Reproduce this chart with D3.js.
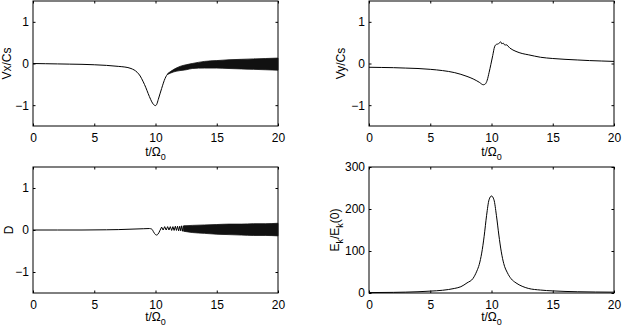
<!DOCTYPE html>
<html>
<head>
<meta charset="utf-8">
<script src="https://cdn.jsdelivr.net/npm/d3@7"></script>
<style>
  html, body { margin: 0; padding: 0; background: #fff; }
  svg { display: block; }
  text, tspan { font-family: "Liberation Sans", Arial, Helvetica, sans-serif; fill: #000; }
</style>
</head>
<body>
<svg id="chart" width="622" height="331"></svg>
<script>
// ---------- Data ----------
const xTicks = [0, 5, 10, 15, 20];
const vTicks = [-1, 0, 1];
const eTicks = [0, 100, 200, 300];

// Vx/Cs main curve
const tVx = [0, 1, 2, 3, 4, 5, 6, 7, 7.5, 8, 8.5, 8.75, 9, 9.2, 9.4, 9.6, 9.8, 10, 10.1, 10.23, 10.5, 10.78, 10.9, 11];
const vx  = [0, -0.005, -0.01, -0.015, -0.02, -0.03, -0.045, -0.07, -0.085, -0.12, -0.21, -0.3, -0.44, -0.57, -0.72, -0.86, -0.97, -1.01, -0.98, -0.86, -0.6, -0.36, -0.29, -0.25];
// Vx/Cs fast-oscillation envelope
const tVxBand = [11, 11.5, 12, 12.5, 13, 14, 15, 16, 17, 18, 19, 20];
const vxHi    = [-0.24, -0.14, -0.07, -0.03, 0.0, 0.05, 0.07, 0.09, 0.10, 0.11, 0.12, 0.13];
const vxLo    = [-0.26, -0.20, -0.17, -0.15, -0.12, -0.11, -0.11, -0.12, -0.13, -0.14, -0.15, -0.16];

// Vy/Cs curve
const tVy = [0, 1, 2, 3, 4, 5, 6, 7, 7.5, 8, 8.5, 9, 9.33, 9.5, 9.65, 9.8, 9.95, 10.1, 10.25, 10.4, 10.56, 10.65, 10.75, 10.85, 10.95, 11.1, 11.2, 11.5, 12, 12.5, 13, 14, 15, 16, 17, 18, 19, 20];
const vy  = [-0.09, -0.095, -0.1, -0.11, -0.12, -0.14, -0.17, -0.22, -0.26, -0.31, -0.37, -0.45, -0.51, -0.49, -0.4, -0.22, -0.02, 0.19, 0.4, 0.46, 0.47, 0.5, 0.52, 0.47, 0.49, 0.44, 0.45, 0.37, 0.29, 0.24, 0.21, 0.15, 0.12, 0.1, 0.085, 0.07, 0.06, 0.05];

// D main curve
const tD = [0, 2, 4, 6, 7, 8, 9, 9.5, 9.7, 9.85, 10.0, 10.1, 10.2, 10.35, 10.5];
const dv = [0, 0, 0, 0.005, 0.01, 0.02, 0.03, 0.035, 0.02, -0.05, -0.11, -0.12, -0.1, -0.02, 0.07];
// D resolved wiggles
const tDz = [10.5, 10.62, 10.75, 10.87, 10.99, 11.1, 11.21, 11.32, 11.42, 11.52, 11.62, 11.71, 11.8, 11.89, 11.98, 12.06, 12.14, 12.22, 12.3];
const dz  = [0.07, 0.0, 0.08, 0.0, 0.08, 0.0, 0.08, -0.01, 0.08, -0.01, 0.09, -0.01, 0.09, -0.02, 0.09, -0.02, 0.10, -0.03, 0.10];
// D fast-oscillation envelope
const tDBand = [12.3, 13, 14, 15, 16, 17, 18, 19, 20];
const dHi    = [0.10, 0.11, 0.12, 0.13, 0.14, 0.14, 0.15, 0.15, 0.16];
const dLo    = [-0.03, -0.06, -0.08, -0.10, -0.11, -0.12, -0.13, -0.13, -0.14];

// Ek/Ek(0) curve
const tE = [0, 2, 4, 5, 6, 7, 7.5, 8, 8.5, 8.8, 9, 9.2, 9.4, 9.6, 9.8, 10, 10.2, 10.4, 10.6, 10.8, 11, 11.3, 11.6, 12, 12.5, 13, 14, 15, 17, 20];
const ek = [1, 1.5, 3, 4.5, 6.5, 11, 15, 24, 35, 52, 68, 95, 135, 185, 222, 231, 222, 185, 138, 98, 70, 48, 34, 24, 16, 11, 7, 5, 3, 2];

// ---------- Drawing ----------
const svg = d3.select("#chart");
const FONT = 12;

const panels = [
  { x0: 33,  x1: 278, y0: 1,   y1: 126, ydom: [-1.5, 1.5], yt: vTicks, label: [{t: "Vx/Cs"}], lx: 10.5, xlab: 29.5 },
  { x0: 369, x1: 614, y0: 1,   y1: 126, ydom: [-1.5, 1.5], yt: vTicks, label: [{t: "Vy/Cs"}], lx: 345,  xlab: 29.5 },
  { x0: 33,  x1: 278, y0: 167, y1: 293, ydom: [-1.5, 1.5], yt: vTicks, label: [{t: "D"}],     lx: 12.5, xlab: 28 },
  { x0: 369, x1: 614, y0: 167, y1: 293, ydom: [0, 300],    yt: eTicks,
    label: [{t: "E"}, {t: "k", sub: true}, {t: "/E"}, {t: "k", sub: true}, {t: "(0)"}], lx: 339, xlab: 28 }
];

function setup(p) {
  const x = d3.scaleLinear().domain([0, 20]).range([p.x0, p.x1]);
  const y = d3.scaleLinear().domain(p.ydom).range([p.y1, p.y0]);
  const g = svg.append("g");
  const tl = 2.5;

  const style = sel => {
    sel.select(".domain").remove();
    sel.selectAll("line").attr("stroke", "#000").attr("stroke-width", 1);
    sel.selectAll("text").attr("font-size", FONT).attr("font-family", null).attr("fill", "#000");
  };

  g.append("g").attr("transform", `translate(0,${p.y1})`)
    .call(d3.axisBottom(x).tickValues(xTicks).tickSize(-tl).tickPadding(7).tickFormat(d3.format("d")))
    .call(style);
  g.append("g").attr("transform", `translate(0,${p.y0})`)
    .call(d3.axisTop(x).tickValues(xTicks).tickSize(-tl).tickFormat(""))
    .call(style);
  g.append("g").attr("transform", `translate(${p.x0},0)`)
    .call(d3.axisLeft(y).tickValues(p.yt).tickSize(-tl).tickPadding(4).tickFormat(d => d < 0 ? "\u2212" + Math.abs(d) : d))
    .call(style);
  g.append("g").attr("transform", `translate(${p.x1},0)`)
    .call(d3.axisRight(y).tickValues(p.yt).tickSize(-tl).tickFormat(""))
    .call(style);

  g.append("rect")
    .attr("x", p.x0).attr("y", p.y0)
    .attr("width", p.x1 - p.x0).attr("height", p.y1 - p.y0)
    .attr("fill", "none").attr("stroke", "#000").attr("stroke-width", 1);

  // x label
  const xl = g.append("text")
    .attr("x", (p.x0 + p.x1) / 2).attr("y", p.y1 + p.xlab)
    .attr("text-anchor", "middle").attr("font-size", FONT).attr("fill", "#000");
  xl.append("tspan").attr("fill", "#000").text("t/\u03A9");
  xl.append("tspan").attr("dy", 4).attr("font-size", 9).attr("fill", "#000").text("0");

  // y label
  const yl = g.append("text")
    .attr("transform", `translate(${p.lx},${(p.y0 + p.y1) / 2}) rotate(-90)`)
    .attr("text-anchor", "middle").attr("font-size", FONT).attr("fill", "#000");
  let prevSub = false;
  p.label.forEach(part => {
    const ts = yl.append("tspan").attr("fill", "#000").text(part.t);
    if (part.sub) { ts.attr("dy", 4).attr("font-size", 9); prevSub = true; }
    else if (prevSub) { ts.attr("dy", -4); prevSub = false; }
  });

  return { g, x, y };
}

const lineStyle = sel => sel.attr("fill", "none").attr("stroke", "#000").attr("stroke-width", 1).attr("stroke-linejoin", "round");

// Panel 1: Vx/Cs
{
  const { g, x, y } = setup(panels[0]);
  const line = d3.line().x(d => x(d[0])).y(d => y(d[1])).curve(d3.curveMonotoneX);
  g.append("path").datum(d3.zip(tVx, vx)).attr("d", line).call(lineStyle);
  const area = d3.area().x(d => x(d[0])).y0(d => y(d[1])).y1(d => y(d[2])).curve(d3.curveMonotoneX);
  g.append("path").datum(d3.zip(tVxBand, vxLo, vxHi)).attr("d", area)
    .attr("fill", "#111").attr("stroke", "#111").attr("stroke-width", 0.8);
}

// Panel 2: Vy/Cs
{
  const { g, x, y } = setup(panels[1]);
  const line = d3.line().x(d => x(d[0])).y(d => y(d[1])).curve(d3.curveMonotoneX);
  g.append("path").datum(d3.zip(tVy, vy)).attr("d", line).call(lineStyle);
}

// Panel 3: D
{
  const { g, x, y } = setup(panels[2]);
  const line = d3.line().x(d => x(d[0])).y(d => y(d[1])).curve(d3.curveMonotoneX);
  g.append("path").datum(d3.zip(tD, dv)).attr("d", line).call(lineStyle);
  const zig = d3.line().x(d => x(d[0])).y(d => y(d[1]));
  g.append("path").datum(d3.zip(tDz, dz)).attr("d", zig).call(lineStyle);
  const area = d3.area().x(d => x(d[0])).y0(d => y(d[1])).y1(d => y(d[2])).curve(d3.curveMonotoneX);
  g.append("path").datum(d3.zip(tDBand, dLo, dHi)).attr("d", area)
    .attr("fill", "#111").attr("stroke", "#111").attr("stroke-width", 0.8);
}

// Panel 4: Ek/Ek(0)
{
  const { g, x, y } = setup(panels[3]);
  const line = d3.line().x(d => x(d[0])).y(d => y(d[1])).curve(d3.curveMonotoneX);
  g.append("path").datum(d3.zip(tE, ek)).attr("d", line).call(lineStyle);
}
</script>
</body>
</html>
